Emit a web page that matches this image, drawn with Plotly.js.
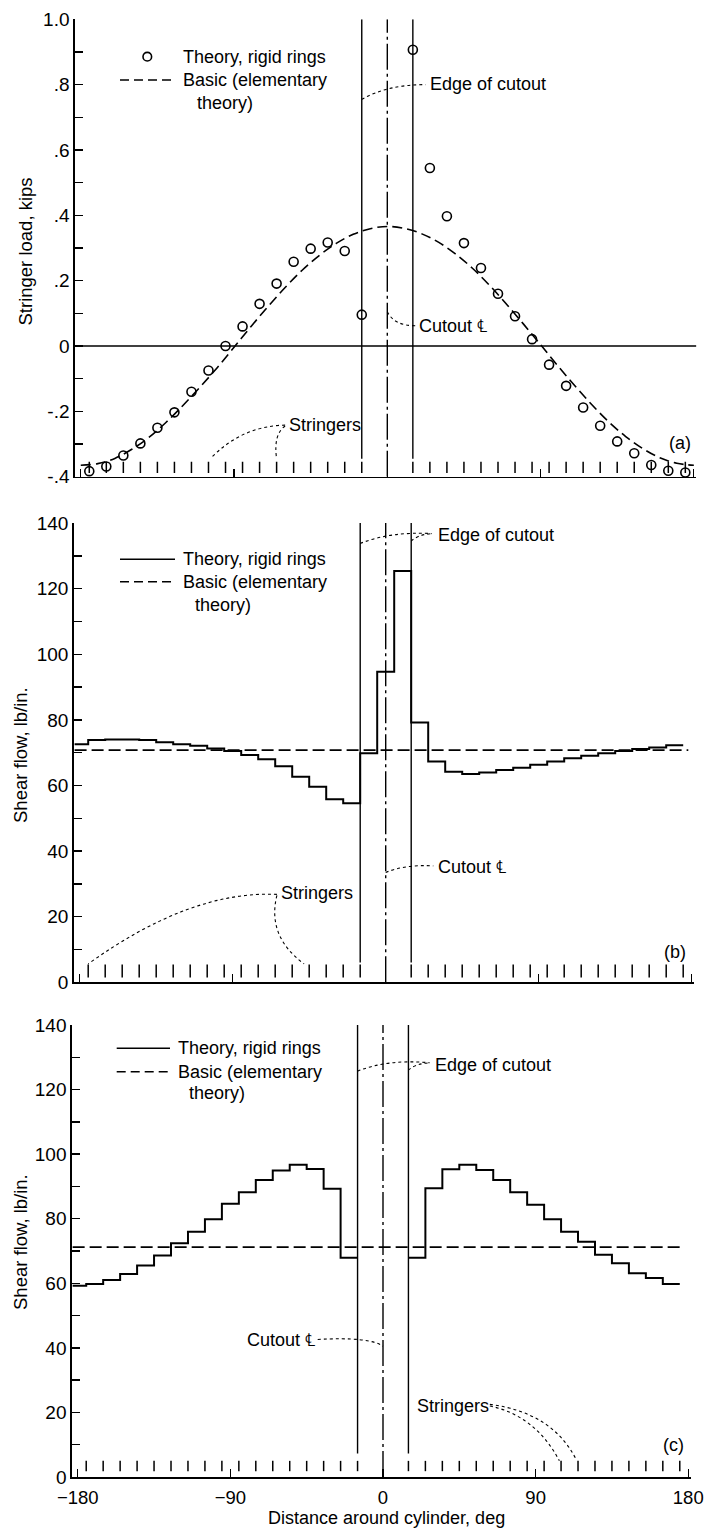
<!DOCTYPE html>
<html>
<head>
<meta charset="utf-8">
<script src="https://cdn.plot.ly/plotly-3.0.1.min.js"></script>
<style>html,body{margin:0;padding:0;background:#fff;}#chart{width:710px;height:1529px;}</style>
</head>
<body>
<div id="chart"></div>
<script>
// ---------------- DATA ----------------
// Stringer positions around the cylinder, deg (stringers at -5 and 5 removed by the cutout)
const stringerDeg = [-175,-165,-155,-145,-135,-125,-115,-105,-95,-85,-75,-65,-55,-45,-35,-25,-15,
                     15,25,35,45,55,65,75,85,95,105,115,125,135,145,155,165,175];
// (a) Stringer load, kips - theory, rigid rings (one value per stringer)
const loadRigid = [-0.383,-0.369,-0.335,-0.298,-0.250,-0.203,-0.140,-0.075,0.000,0.060,0.129,0.191,0.258,0.298,0.317,0.291,0.096,
                   0.907,0.545,0.397,0.315,0.239,0.160,0.091,0.021,-0.057,-0.122,-0.188,-0.244,-0.292,-0.328,-0.364,-0.382,-0.387];
// (a) Basic (elementary theory) curve
const basicDegA  = [-180,-170,-160,-150,-140,-130,-120,-110,-100,-90,-80,-70,-60,-50,-40,-30,-20,-10,0,
                    10,20,30,40,50,60,70,80,90,100,110,120,130,140,150,160,170,180];
const basicLoadA = [-0.365,-0.360,-0.344,-0.316,-0.280,-0.234,-0.182,-0.126,-0.067,-0.004,0.060,0.121,0.179,0.232,0.277,0.314,0.342,0.359,0.366,
                    0.360,0.344,0.318,0.282,0.238,0.186,0.128,0.067,0.004,-0.060,-0.121,-0.179,-0.232,-0.277,-0.314,-0.342,-0.359,-0.365];

// (b) Shear flow, lb/in. - theory, rigid rings (step value starting at each bay edge)
const bayDegB   = [-183,-175,-165,-155,-145,-135,-125,-115,-105,-95,-85,-75,-65,-55,-45,-35,-25,-15,-5,5,
                   15,25,35,45,55,65,75,85,95,105,115,125,135,145,155,165,175];
const shearRigidB = [72.6,73.9,74.0,74.0,73.9,73.2,72.6,72.1,71.3,70.5,69.3,68.0,65.9,62.7,59.6,55.8,54.6,69.8,94.7,125.4,
                     79.2,67.3,64.2,63.5,64.0,64.7,65.4,66.3,67.3,68.3,69.1,69.8,70.5,71.1,71.6,72.3,72.3];
const basicDegB   = [-183,178];
const basicShearB = [70.8,70.8];

// (c) Shear flow, lb/in. - theory, rigid rings (no panels between the cutout edges)
const bayDegC   = [-183,-175,-165,-155,-145,-135,-125,-115,-105,-95,-85,-75,-65,-55,-45,-35,-25,-15,null,
                   15,25,35,45,55,65,75,85,95,105,115,125,135,145,155,165,175];
const shearRigidC = [59.2,59.8,61.0,62.9,65.5,68.6,72.4,76.0,79.8,84.6,88.2,92.0,94.9,96.7,95.4,89.3,67.9,67.9,null,
                     67.9,89.4,95.3,96.7,95.1,92.0,88.2,84.3,79.8,76.0,72.9,68.8,66.2,63.1,61.6,59.8,59.8];
const basicDegC   = [-183,175];
const basicShearC = [71.2,71.2];

// Cutout geometry, deg
const cutoutEdges = [-15,15];
const cutoutCenter = 0;

// Tick labels
const xTickVals = [-180,-90,0,90,180];
const yTickValsA = [-0.4,-0.2,0,0.2,0.4,0.6,0.8,1.0];
const yTickTextA = ['-.4','-.2','0','.2','.4','.6','.8','1.0'];
const yMinorA = [-0.3,-0.1,0.1,0.3,0.5,0.7,0.9];
const yTickValsS = [0,20,40,60,80,100,120,140];
const yMinorS = [10,30,50,70,90,110,130];

// ---------------- LAYOUT HELPERS ----------------
const W = 710, H = 1529;
const FONT = 'Liberation Sans, Arial, sans-serif';
const px = v => v / W;
const py = v => 1 - v / H;

const panels = [
  {x:'x',  y:'y',  xd:[74.8,696.4], yd:[476.7,19.3], yr:[-0.4,1.0], tickLo:-0.389, tickHi:-0.354, edgeLo:-0.345, top:1.0},
  {x:'x2', y:'y2', xd:[73.75,694.25], yd:[982.3,523.1], yr:[0,140], tickLo:1.5, tickHi:5.4, edgeLo:6.0, top:140},
  {x:'x3', y:'y3', xd:[71.8,690.8], yd:[1477,1025], yr:[0,140], tickLo:1.8, tickHi:5.0, edgeLo:7.3, top:140}
];

function xAxis(p, showLabels){
  return {domain:[px(p.xd[0]), px(p.xd[1])], range:[-183.5,181.5], anchor:p.y,
    showline:true, linecolor:'#000', linewidth:1.5, mirror:false,
    ticks:'inside', ticklen:8, tickwidth:1.3, tickcolor:'#000', tickmode:'array', tickvals:xTickVals,
    showticklabels:showLabels, ticklabelstandoff:3, tickfont:{family:FONT, size:18.5, color:'#000'},
    showgrid:false, zeroline:false, fixedrange:true};
}
function yAxis(p, vals, text, minor){
  const a = {domain:[py(p.yd[0]), py(p.yd[1])], range:p.yr, anchor:p.x,
    showline:true, linecolor:'#000', linewidth:1.5,
    ticks:'inside', ticklen:8, tickwidth:1.3, tickcolor:'#000', tickmode:'array', tickvals:vals,
    minor:{tickmode:'array', tickvals:minor, ticks:'inside', ticklen:8, tickwidth:1.3, tickcolor:'#000', showgrid:false},
    tickfont:{family:FONT, size:19, color:'#000'},
    showgrid:false, zeroline:false, fixedrange:true};
  if (text) a.ticktext = text;
  return a;
}

// ---------------- TRACES ----------------
const traces = [];
// stringer tick marks for each panel
panels.forEach(p => {
  const xs = [], ys = [];
  stringerDeg.forEach(d => { xs.push(d, d, null); ys.push(p.tickLo, p.tickHi, null); });
  traces.push({x:xs, y:ys, xaxis:p.x, yaxis:p.y, mode:'lines', line:{color:'#000', width:1.5},
               hoverinfo:'skip', showlegend:false});
});
// (a)
traces.push({x:basicDegA, y:basicLoadA, xaxis:'x', yaxis:'y', mode:'lines', name:'Basic (elementary theory)',
  line:{color:'#000', width:1.6, dash:'10px,5px', shape:'spline'}, showlegend:false});
traces.push({x:stringerDeg, y:loadRigid, xaxis:'x', yaxis:'y', mode:'markers', name:'Theory, rigid rings',
  marker:{symbol:'circle-open', size:9, color:'#000', line:{width:1.6, color:'#000'}}, cliponaxis:false, showlegend:false});
// (b)
traces.push({x:basicDegB, y:basicShearB, xaxis:'x2', yaxis:'y2', mode:'lines', name:'Basic (elementary theory)',
  line:{color:'#000', width:1.6, dash:'12px,5px'}, showlegend:false});
traces.push({x:bayDegB, y:shearRigidB, xaxis:'x2', yaxis:'y2', mode:'lines', name:'Theory, rigid rings',
  line:{color:'#000', width:2, shape:'hv'}, showlegend:false});
// (c)
traces.push({x:basicDegC, y:basicShearC, xaxis:'x3', yaxis:'y3', mode:'lines', name:'Basic (elementary theory)',
  line:{color:'#000', width:1.6, dash:'12px,5px'}, showlegend:false});
traces.push({x:bayDegC, y:shearRigidC, xaxis:'x3', yaxis:'y3', mode:'lines', name:'Theory, rigid rings',
  line:{color:'#000', width:2, shape:'hv'}, connectgaps:false, showlegend:false});

// ---------------- SHAPES ----------------
const shapes = [];
panels.forEach(p => {
  cutoutEdges.forEach(e => shapes.push({type:'line', xref:p.x, yref:p.y, x0:e, x1:e, y0:p.edgeLo, y1:p.top,
    line:{color:'#000', width:1.4}}));
  shapes.push({type:'line', xref:p.x, yref:p.y, x0:cutoutCenter, x1:cutoutCenter, y0:p.yr[0], y1:p.top,
    line:{color:'#000', width:1.4, dash:'26px,4px,3px,4px'}});
});
// zero line of panel (a)
shapes.push({type:'line', xref:'x', yref:'y', x0:-183.5, x1:181.5, y0:0, y1:0, line:{color:'#000', width:1.6}});

// leader lines (dotted)
const lead = (xr, yr, path) => ({type:'path', xref:xr, yref:yr, path:path, line:{color:'#000', width:1.1, dash:'3px,3px'}});
shapes.push(lead('x','y','M -15,0.755 Q 0,0.80 22.5,0.80'));
shapes.push(lead('x','y','M 0,0.105 Q 4,0.062 16.5,0.062'));
shapes.push(lead('x','y','M -60,-0.242 Q -85,-0.245 -103,-0.340'));
shapes.push(lead('x','y','M -60,-0.245 Q -67,-0.27 -65,-0.345'));
shapes.push(lead('x2','y2','M -15,133.8 Q 3,137.5 27,136.8'));
shapes.push(lead('x2','y2','M 15,134.5 Q 19,136.5 27,136.8'));
shapes.push(lead('x2','y2','M 0,33.5 Q 12,36 28,35.5'));
shapes.push(lead('x2','y2','M -64,26.8 Q -115,28 -175,5.6'));
shapes.push(lead('x2','y2','M -64,26.5 Q -70,14 -48,5.6'));
shapes.push(lead('x3','y3','M -15,125.7 Q 3,129.5 27.5,128.3'));
shapes.push(lead('x3','y3','M 15,126 Q 19,128 27.5,128.3'));
shapes.push(lead('x3','y3','M -38.5,42.6 Q -8,43.5 0,40.5'));
shapes.push(lead('x3','y3','M 63,22 Q 90,19 104,5'));
shapes.push(lead('x3','y3','M 63,22.5 Q 100,20 114,5.3'));

// legend symbols (paper coordinates)
const legends = [
  {sym:'circle', x0:120, x1:174.5, y1:56.7, y2:80,   tx:181.3, t3x:195,   t3y:103},
  {sym:'line',   x0:120, x1:175,   y1:559.3, y2:581.7, tx:181.3, t3x:192.7, t3y:605},
  {sym:'line',   x0:116.7, x1:170, y1:1048.3, y2:1071.7, tx:175.5, t3x:186.7, t3y:1093.3}
];
const annotations = [];
const txt = (text, x, y, xa, size, extra) => Object.assign({text:text, xref:'paper', yref:'paper', x:px(x), y:py(y),
  xanchor:xa||'left', yanchor:'middle', showarrow:false, font:{family:FONT, size:size||18, color:'#000'}}, extra||{});
legends.forEach(l => {
  if (l.sym === 'circle') {
    shapes.push({type:'circle', xref:'paper', yref:'paper', x0:px(147.3-4.3), x1:px(147.3+4.3), y0:py(l.y1+4.3), y1:py(l.y1-4.3),
      line:{color:'#000', width:1.6}});
  } else {
    shapes.push({type:'line', xref:'paper', yref:'paper', x0:px(l.x0), x1:px(l.x1), y0:py(l.y1), y1:py(l.y1),
      line:{color:'#000', width:1.5}});
  }
  shapes.push({type:'line', xref:'paper', yref:'paper', x0:px(l.x0), x1:px(l.x1), y0:py(l.y2), y1:py(l.y2),
    line:{color:'#000', width:1.5, dash:'9px,5px'}});
  annotations.push(txt('Theory, rigid rings', l.tx, l.y1));
  annotations.push(txt('Basic (elementary', l.tx, l.y2));
  annotations.push(txt('theory)', l.t3x, l.t3y));
});

// data-anchored labels
const dtxt = (text, xr, yr, x, y, xa) => ({text:text, xref:xr, yref:yr, x:x, y:y, xanchor:xa||'left', yanchor:'middle',
  showarrow:false, font:{family:FONT, size:18, color:'#000'}});
annotations.push(dtxt('Edge of cutout','x','y',23.9,0.802));
annotations.push(dtxt('Cutout ℄','x','y',17.3,0.062));
annotations.push(dtxt('Stringers','x','y',-59.1,-0.242));
annotations.push(dtxt('Edge of cutout','x2','y2',29.6,136.4));
annotations.push(dtxt('Cutout ℄','x2','y2',29.6,35.2));
annotations.push(dtxt('Stringers','x2','y2',-62.6,27.1));
annotations.push(dtxt('Edge of cutout','x3','y3',29.3,127.6));
annotations.push(dtxt('Cutout ℄','x3','y3',-38.9,42.4,'right'));
annotations.push(dtxt('Stringers','x3','y3',18.9,22.0));

// panel letters
annotations.push(txt('(a)', 680, 443, 'center'));
annotations.push(txt('(b)', 675, 951.7, 'center'));
annotations.push(txt('(c)', 673.3, 1445, 'center'));

// axis titles
annotations.push(txt('Stringer load, kips', 25, 251.5, 'center', 18.5, {textangle:-90}));
annotations.push(txt('Shear flow, lb/in.', 20, 755, 'center', 18.5, {textangle:-90}));
annotations.push(txt('Shear flow, lb/in.', 20, 1242, 'center', 18.5, {textangle:-90}));
annotations.push(txt('Distance around cylinder, deg', 386, 1518, 'center', 18, {borderpad:0}));

const layout = {
  width:W, height:H, margin:{l:0, r:0, t:0, b:0},
  paper_bgcolor:'#fff', plot_bgcolor:'#fff', showlegend:false,
  font:{family:FONT, color:'#000'},
  xaxis: xAxis(panels[0], false),
  yaxis: yAxis(panels[0], yTickValsA, yTickTextA, yMinorA),
  xaxis2: xAxis(panels[1], false),
  yaxis2: yAxis(panels[1], yTickValsS, null, yMinorS),
  xaxis3: xAxis(panels[2], true),
  yaxis3: yAxis(panels[2], yTickValsS, null, yMinorS),
  shapes: shapes,
  annotations: annotations
};

Plotly.newPlot('chart', traces, layout, {staticPlot:true, displayModeBar:false});
</script>
</body>
</html>
